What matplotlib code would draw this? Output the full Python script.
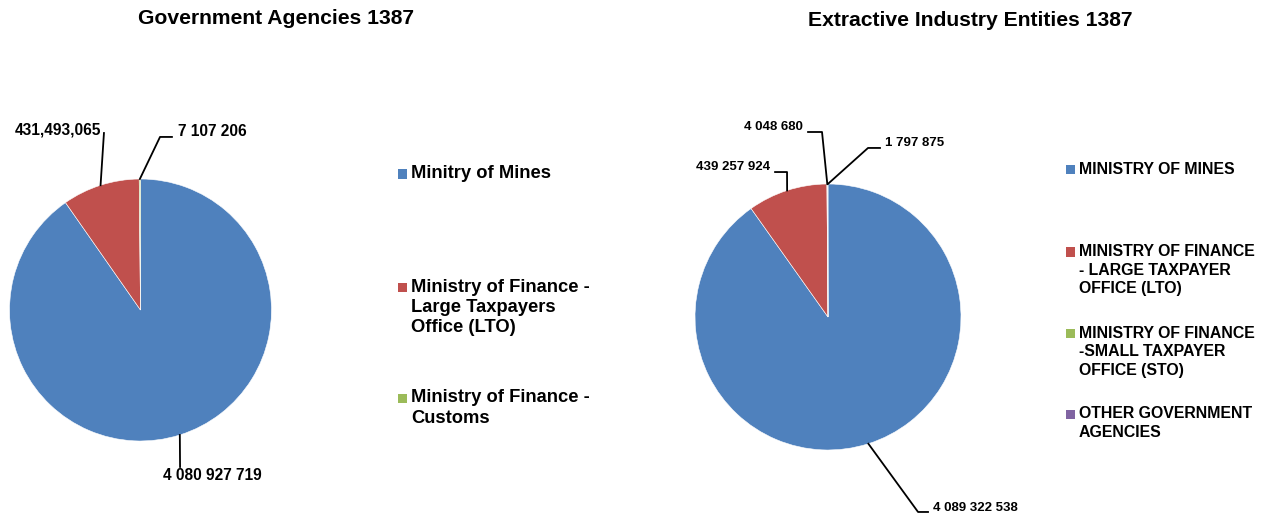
import numpy as np
import matplotlib
matplotlib.use("Agg")
import matplotlib.pyplot as plt
from matplotlib.patches import Rectangle

plt.rcParams['font.family'] = ['Liberation Sans', 'DejaVu Sans']
plt.rcParams['font.weight'] = 'bold'

W, H = 1271, 516

# données
gov_title = "Government Agencies 1387"
gov_cats = ["Minitry of Mines",
            "Ministry of Finance -\nLarge Taxpayers\nOffice (LTO)",
            "Ministry of Finance -\nCustoms"]
gov_values = [4080927719, 431493065, 7107206]
gov_labels = ["4 080 927 719", "431,493,065", "7 107 206"]

ext_title = "Extractive Industry Entities 1387"
ext_cats = ["MINISTRY OF MINES",
            "MINISTRY OF FINANCE\n- LARGE TAXPAYER\nOFFICE (LTO)",
            "MINISTRY OF FINANCE\n-SMALL TAXPAYER\nOFFICE (STO)",
            "OTHER GOVERNMENT\nAGENCIES"]
ext_values = [4089322538, 439257924, 4048680, 1797875]
ext_labels = ["4 089 322 538", "439 257 924", "4 048 680", "1 797 875"]

colors = ['#4F81BD', '#C0504D', '#9BBB59', '#8064A2']

fig = plt.figure(figsize=(W / 100, H / 100), dpi=100)


def fx(px):
    return px / W


def fy(py):
    return 1 - py / H


def pie_axes(cx, cy, r, k=1.9):
    ax = fig.add_axes([fx(cx - k * r), fy(cy + k * r), 2 * k * r / W, 2 * k * r / H])
    return ax, k


def draw_pie(cx, cy, r, values, labels, leaders, fsize):
    ax, k = pie_axes(cx, cy, r)
    wedges, _ = ax.pie(values, colors=colors[:len(values)], startangle=90,
                       counterclock=False, radius=1,
                       wedgeprops=dict(edgecolor='white', linewidth=0.4))
    ax.set_xlim(-k, k)
    ax.set_ylim(-k, k)
    ax.set_aspect('equal')
    ax.axis('off')
    # lignes de rappel et étiquettes
    for w, lab, (pts, tpos, ha) in zip(wedges, labels, leaders):
        a = np.radians((w.theta1 + w.theta2) / 2)
        xs = [np.cos(a)] + [p[0] for p in pts]
        ys = [np.sin(a)] + [p[1] for p in pts]
        ax.plot(xs, ys, color='black', lw=1.3, clip_on=False)
        ax.text(tpos[0], tpos[1], lab, ha=ha, va='center', fontsize=fsize,
                fontweight='bold', clip_on=False)
    return ax


def draw_legend(x, ys, cats, dy, fsize, sq):
    for c, y0, col in zip(cats, ys, colors):
        fig.patches.append(Rectangle((fx(x), fy(y0 + sq / 2)), sq / W, sq / H,
                                     transform=fig.transFigure, facecolor=col,
                                     edgecolor='none'))
        for i, line in enumerate(c.split("\n")):
            fig.text(fx(x + sq + 4), fy(y0 + i * dy), line, ha='left', va='center',
                     fontsize=fsize, fontweight='bold')


# Graphique de gauche
gov_leaders = [
    ([(0.302, -1.198)], (0.546, -1.267), 'center'),
    ([(-0.279, 1.351)], (-0.302, 1.374), 'right'),
    ([(0.149, 1.321), (0.240, 1.321)], (0.286, 1.359), 'left'),
]
draw_pie(140.5, 310, 131, gov_values, gov_labels, gov_leaders, 11.2)
fig.text(fx(276), fy(19), gov_title, ha='center', va='center', fontsize=15.2, fontweight='bold')
draw_legend(398, [174, 287, 398], gov_cats, 20.5, 13.2, 9)

# Graphique de droite
ext_leaders = [
    ([(0.677, -1.466), (0.752, -1.466)], (0.789, -1.436), 'left'),
    ([(-0.308, 1.090), (-0.398, 1.090)], (-0.436, 1.128), 'right'),
    ([(-0.045, 1.391), (-0.150, 1.391)], (-0.188, 1.429), 'right'),
    ([(0.301, 1.271), (0.391, 1.271)], (0.429, 1.308), 'left'),
]
draw_pie(828, 317, 133, ext_values, ext_labels, ext_leaders, 9.5)
fig.text(fx(970), fy(20), ext_title, ha='center', va='center', fontsize=15.2, fontweight='bold')
draw_legend(1066, [170, 252, 333, 414], ext_cats, 18.5, 11.4, 9)

plt.savefig("out.png", dpi=100)
